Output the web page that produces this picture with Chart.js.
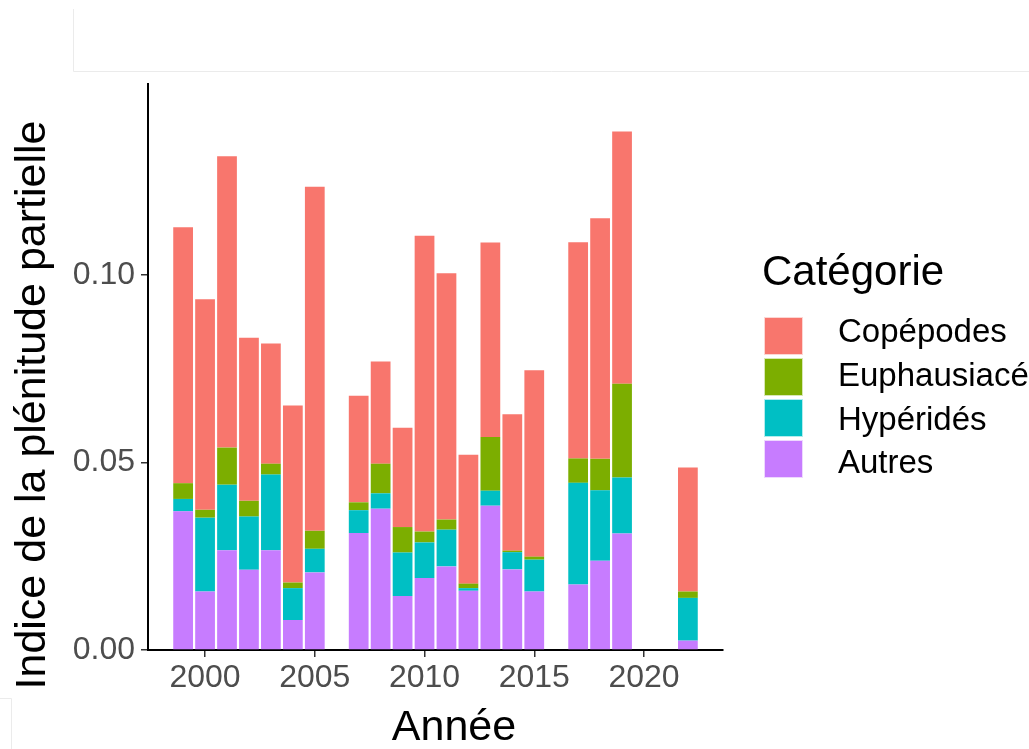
<!DOCTYPE html>
<html>
<head>
<meta charset="utf-8">
<script src="https://cdn.jsdelivr.net/npm/chart.js@4.4.0/dist/chart.umd.min.js"></script>
<style>
  body { margin: 0; background: #ffffff; }
  #wrap { width: 1029px; height: 749px; }
</style>
</head>
<body>
<div id="wrap"><canvas id="barChart" width="1029" height="749"></canvas></div>
<script>
// données
const years = [1999, 2000, 2001, 2002, 2003, 2004, 2005, 2007, 2008, 2009, 2010, 2011, 2012, 2013, 2014, 2015, 2017, 2018, 2019, 2022];
const autres = [0.0370, 0.0156, 0.0266, 0.0214, 0.0266, 0.0080, 0.0207, 0.0312, 0.0377, 0.0144, 0.0192, 0.0223, 0.0158, 0.0385, 0.0215, 0.0156, 0.0175, 0.0238, 0.0311, 0.0025];
const hyperides = [0.0033, 0.0197, 0.0175, 0.0142, 0.0202, 0.0085, 0.0063, 0.0061, 0.0041, 0.0116, 0.0095, 0.0098, 0.0007, 0.0040, 0.0046, 0.0085, 0.0271, 0.0188, 0.0149, 0.0114];
const euphausiaces = [0.0042, 0.0021, 0.0099, 0.0042, 0.0029, 0.0015, 0.0048, 0.0021, 0.0079, 0.0068, 0.0029, 0.0027, 0.0012, 0.0143, 0.0004, 0.0008, 0.0065, 0.0084, 0.0250, 0.0017];
const copepodes = [0.0683, 0.0562, 0.0777, 0.0435, 0.0321, 0.0472, 0.0918, 0.0284, 0.0273, 0.0265, 0.0789, 0.0657, 0.0344, 0.0519, 0.0364, 0.0497, 0.0577, 0.0642, 0.0673, 0.0331];

const categories = ['Copépodes', 'Euphausiacé', 'Hypéridés', 'Autres'];
const xTicks = [2000, 2005, 2010, 2015, 2020];
const yTicks = [0, 0.05, 0.10];

const couleurs = {
  'Copépodes': '#F8766D',
  'Euphausiacé': '#7CAE00',
  'Hypéridés': '#00BFC4',
  'Autres': '#C77CFF'
};

const FONT = '"Liberation Sans", Arial, sans-serif';

const toPoints = (values) => values.map((v, i) => ({ x: years[i], y: v }));

// ordre d'empilement : Autres en bas, Copépodes en haut
const serie = (label, values) => ({
  label: label,
  data: toPoints(values),
  backgroundColor: couleurs[label],
  borderWidth: 0,
  barPercentage: 0.9,
  categoryPercentage: 1.0
});

// titres d'axes, légende et petits traits gris du cadre
const decorPlugin = {
  id: 'decor',
  afterDraw(chart) {
    const ctx = chart.ctx;
    ctx.save();

    ctx.strokeStyle = '#ebebeb';
    ctx.lineWidth = 1;
    ctx.beginPath();
    ctx.moveTo(73.5, 9); ctx.lineTo(73.5, 71.5); ctx.lineTo(1029, 71.5);
    ctx.moveTo(0, 698.5); ctx.lineTo(11.5, 698.5); ctx.lineTo(11.5, 749);
    ctx.stroke();

    ctx.fillStyle = '#000000';
    ctx.font = '43px ' + FONT;
    ctx.textAlign = 'center';
    ctx.textBaseline = 'alphabetic';
    ctx.fillText('Année', 454, 740);

    ctx.save();
    ctx.translate(45, 405);
    ctx.rotate(-Math.PI / 2);
    ctx.fillText('Indice de la plénitude partielle', 0, 0);
    ctx.restore();

    ctx.textAlign = 'left';
    ctx.font = '42px ' + FONT;
    ctx.fillText('Catégorie', 762, 285);

    ctx.font = '33px ' + FONT;
    categories.forEach((cat, i) => {
      const y = 317 + i * 41;
      ctx.fillStyle = couleurs[cat];
      ctx.fillRect(764, y, 39, 38);
      ctx.strokeStyle = 'rgba(255,255,255,0.7)';
      ctx.strokeRect(764.5, y + 0.5, 38, 37);
      ctx.fillStyle = '#000000';
      ctx.fillText(cat, 838, 342 + i * 43.8);
    });

    ctx.restore();
  }
};

new Chart(document.getElementById('barChart'), {
  type: 'bar',
  data: {
    datasets: [
      serie('Autres', autres),
      serie('Hypéridés', hyperides),
      serie('Euphausiacé', euphausiaces),
      serie('Copépodes', copepodes)
    ]
  },
  options: {
    responsive: false,
    animation: false,
    layout: { padding: { top: 84, right: 306, left: 0, bottom: 0 } },
    plugins: {
      legend: { display: false },
      tooltip: { enabled: false },
      title: { display: false }
    },
    scales: {
      x: {
        type: 'linear',
        stacked: true,
        offset: false,
        min: 1997.4,
        max: 2023.6,
        afterBuildTicks: (scale) => { scale.ticks = xTicks.map(v => ({ value: v })); },
        afterFit: (scale) => { scale.height = 99; },
        grid: { offset: false, drawOnChartArea: false, drawTicks: true, tickLength: 7, tickColor: '#333333', lineWidth: 1.5 },
        border: { display: true, color: '#000000', width: 2 },
        ticks: {
          color: '#4D4D4D',
          font: { family: FONT, size: 32 },
          padding: 2,
          maxRotation: 0,
          autoSkip: false,
          callback: (v) => String(v)
        }
      },
      y: {
        stacked: true,
        min: 0,
        max: 0.151,
        afterBuildTicks: (scale) => { scale.ticks = yTicks.map(v => ({ value: v })); },
        afterFit: (scale) => { scale.width = 148; },
        grid: { drawOnChartArea: false, drawTicks: true, tickLength: 7, tickColor: '#333333', lineWidth: 1.5 },
        border: { display: true, color: '#000000', width: 2 },
        ticks: {
          color: '#4D4D4D',
          font: { family: FONT, size: 32 },
          padding: 6,
          callback: (v) => Number(v).toFixed(2)
        }
      }
    }
  },
  plugins: [decorPlugin]
});
</script>
</body>
</html>
